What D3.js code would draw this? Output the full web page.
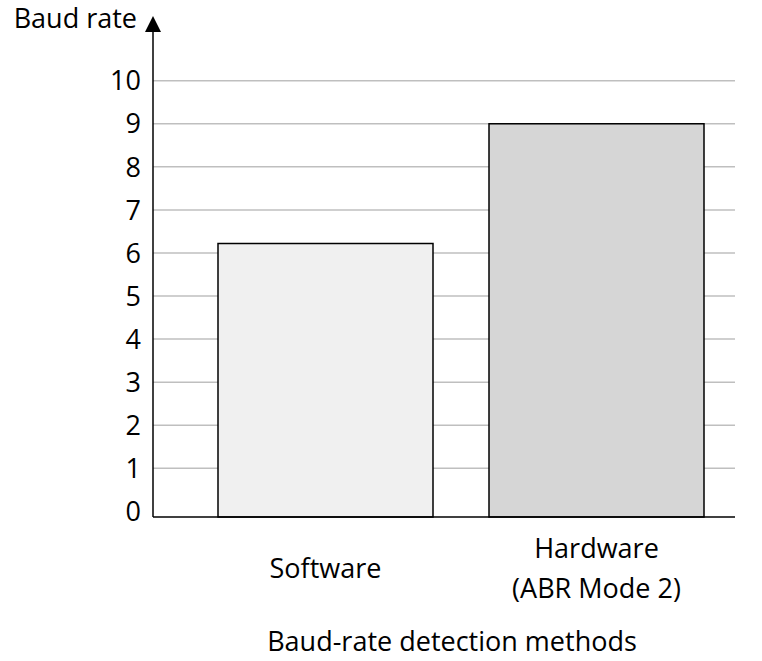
<!DOCTYPE html>
<html><head><meta charset="utf-8">
<script src="https://cdn.jsdelivr.net/npm/d3@7"></script>
<style>body{margin:0;background:#fff}svg{display:block}text{font-family:"Open Sans",sans-serif;fill:#000}</style>
</head><body>
<script>
const categories = ["Software", "Hardware\n(ABR Mode 2)"];
const values = [6.22, 9.0];
const fills = ["#f0f0f0", "#d6d6d6"];
const yTicks = [0,1,2,3,4,5,6,7,8,9,10];
const yLabel = "Baud rate";
const xLabel = "Baud-rate detection methods";

const W = 762, H = 661;
const svg = d3.select("body").append("svg").attr("width", W).attr("height", H);
const axisX = 153, axisRight = 735, baseY = 517;
const y = d3.scaleLinear().domain([0, 10]).range([511.4, 80.7]);
const x = d3.scalePoint().domain(categories).range([325.5, 596.5]);
const barW = 215;
const fs = 27;

// gridlines
svg.append("g").selectAll("line").data(yTicks.filter(d => d > 0)).join("line")
  .attr("x1", axisX).attr("x2", axisRight)
  .attr("y1", d => y(d)).attr("y2", d => y(d))
  .attr("stroke", "#bfbfbf").attr("stroke-width", 1.5);

// bars
svg.append("g").selectAll("rect").data(categories).join("rect")
  .attr("x", d => x(d) - barW/2).attr("width", barW)
  .attr("y", (d,i) => y(values[i])).attr("height", (d,i) => baseY - y(values[i]))
  .attr("fill", (d,i) => fills[i]).attr("stroke", "#000").attr("stroke-width", 1.5);

// axes
svg.append("line").attr("x1", axisX).attr("x2", axisRight).attr("y1", baseY).attr("y2", baseY)
  .attr("stroke", "#000").attr("stroke-width", 1.5);
svg.append("line").attr("x1", axisX).attr("x2", axisX).attr("y1", baseY).attr("y2", 30)
  .attr("stroke", "#000").attr("stroke-width", 1.5);
svg.append("path").attr("d", `M${axisX},16 L${axisX-8},32 L${axisX+8},32 Z`).attr("fill", "#000");

// y tick labels
svg.append("g").selectAll("text").data(yTicks).join("text")
  .attr("x", 141).attr("y", d => y(d)).attr("dy", "0.36em")
  .attr("text-anchor", "end").attr("font-size", fs).text(d => d);

// y label
svg.append("text").attr("x", 137).attr("y", 28).attr("text-anchor", "end").attr("font-size", fs).text(yLabel);

// category labels
categories.forEach((c) => {
  const lines = c.split("\n");
  const t = svg.append("text").attr("text-anchor", "middle").attr("font-size", fs);
  if (lines.length === 1) {
    t.append("tspan").attr("x", x(c)).attr("y", 578).text(lines[0]);
  } else {
    lines.forEach((l, j) => t.append("tspan").attr("x", x(c)).attr("y", 558 + j*40).text(l));
  }
});

// x label
svg.append("text").attr("x", 452).attr("y", 651).attr("text-anchor", "middle").attr("font-size", fs).text(xLabel);
</script>
</body></html>
